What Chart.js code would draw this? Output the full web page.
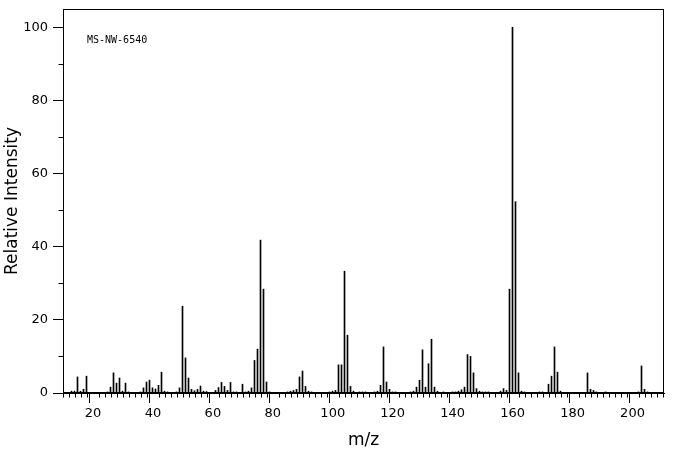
<!DOCTYPE html>
<html>
<head>
<meta charset="utf-8">
<style>
  html, body { margin: 0; padding: 0; background: #fff; }
  #wrap { width: 676px; height: 455px; position: relative; }
</style>
<script src="https://cdn.jsdelivr.net/npm/chart.js@4/dist/chart.umd.min.js"></script>
</head>
<body>
<div id="wrap"><canvas id="chart"></canvas></div>
<script>
// peak positions (m/z) and relative intensities
const mz = [
  13, 14, 15, 16, 17, 18, 25, 26, 27, 28, 29, 30, 31, 32, 36, 37, 38, 39, 40, 41,
  42, 43, 44, 45, 48, 49, 50, 51, 52, 53, 54, 55, 56, 57, 58, 61, 62, 63, 64, 65,
  66, 67, 68, 70, 71, 72, 73, 74, 75, 76, 77, 78, 79, 85, 86, 87, 88, 89, 90, 91,
  92, 93, 99, 100, 101, 102, 103, 104, 105, 106, 107, 109, 110, 111, 114, 115, 116, 117, 118, 119,
  120, 121, 126, 127, 128, 129, 130, 131, 132, 133, 134, 135, 137, 140, 141, 142, 143, 144, 145, 146,
  147, 148, 149, 150, 151, 152, 156, 157, 158, 159, 160, 161, 162, 163, 164, 169, 170, 172, 173, 174,
  175, 176, 185, 186, 187, 188, 191, 202, 203, 204, 205
];
const intensity = [
  0.5, 0.5, 4.4, 0.5, 1.0, 4.6, 0.3, 1.6, 5.5, 2.7, 4.1, 0.5, 2.7, 0.3, 0.3, 1.4, 3.0, 3.5, 1.4, 1.1,
  2.1, 5.7, 0.5, 0.3, 0.3, 1.4, 23.7, 9.6, 4.1, 1.0, 0.6, 1.0, 1.9, 0.5, 0.4, 0.7, 1.5, 2.9, 1.8, 0.7,
  2.9, 0.3, 0.3, 2.4, 0.3, 0.5, 1.4, 8.9, 12.0, 41.8, 28.4, 3.0, 0.3, 0.3, 0.5, 0.7, 1.0, 4.4, 6.0, 1.8,
  0.5, 0.3, 0.3, 0.5, 0.7, 7.7, 7.7, 33.3, 15.8, 1.8, 0.5, 0.3, 0.3, 0.3, 0.3, 0.5, 2.1, 12.6, 3.0, 1.0,
  0.3, 0.3, 0.3, 0.5, 1.6, 3.5, 11.8, 1.6, 8.0, 14.7, 1.6, 0.5, 0.3, 0.3, 0.3, 0.5, 0.9, 1.6, 10.5, 10.0,
  5.5, 1.2, 0.5, 0.3, 0.3, 0.3, 0.5, 1.2, 0.7, 28.4, 100, 52.3, 5.5, 0.5, 0.3, 0.3, 0.3, 2.4, 4.6, 12.6,
  5.7, 0.5, 5.5, 1.0, 0.7, 0.3, 0.3, 0.3, 7.4, 1.0, 0.3
];
const X_MIN = 10, X_MAX = 210.5, Y_MIN = 0, Y_MAX = 105;
const X_MAJOR = 20, X_MINOR = 2, Y_MAJOR = 20, Y_MINOR = 10;
const SAMPLE_ID = "MS-NW-6540";

Chart.defaults.font.family = '"DejaVu Sans", sans-serif';
Chart.defaults.color = "#000";

/* snap the 1px sticks onto pixel centres so they stay crisp */
const crisp = {
  id: "crisp",
  beforeDatasetsDraw(chart) {
    chart.getDatasetMeta(0).data.forEach(bar => {
      bar.x = Math.floor(bar.x) + 0.5;
    });
  }
};

/* frame around the plot, short minor ticks and the sample id */
const decor = {
  id: "decor",
  afterDraw(chart) {
    const { ctx, chartArea: a, scales: { x, y } } = chart;
    ctx.save();
    ctx.strokeStyle = "#000";
    ctx.lineWidth = 1;
    const l = Math.round(a.left) + 0.5, r = Math.round(a.right) - 0.5;
    const t = Math.round(a.top) + 0.5, b = Math.round(a.bottom) - 0.5;
    ctx.strokeRect(l, t, r - l, b - t);
    ctx.beginPath();
    x.ticks.forEach(tk => {
      if (tk.value % X_MAJOR === 0) return;
      const px = Math.round(x.getPixelForValue(tk.value)) + 0.5;
      ctx.moveTo(px, b); ctx.lineTo(px, b + 5);
    });
    y.ticks.forEach(tk => {
      if (tk.value % Y_MAJOR === 0) return;
      const py = Math.round(y.getPixelForValue(tk.value)) + 0.5;
      ctx.moveTo(l, py); ctx.lineTo(l - 5, py);
    });
    ctx.stroke();
    ctx.fillStyle = "#000";
    ctx.font = '10px "DejaVu Sans Mono", monospace';
    ctx.textBaseline = "middle";
    ctx.fillText(SAMPLE_ID, a.left + 24, a.top + 31);
    ctx.restore();
  }
};

const majorOnly = step => c => (c.tick && c.tick.value % step === 0) ? "#000" : "rgba(0,0,0,0)";

new Chart(document.getElementById("chart"), {
  type: "bar",
  data: {
    datasets: [{
      data: mz.map((m, i) => ({ x: m, y: intensity[i] })),
      backgroundColor: "#000",
      borderWidth: 0,
      barThickness: 1,
    }]
  },
  options: {
    responsive: true,
    maintainAspectRatio: false,
    animation: false,
    layout: { padding: { left: 0, top: 9, right: 12, bottom: 0 } },
    plugins: { legend: { display: false }, tooltip: { enabled: false } },
    scales: {
      x: {
        type: "linear",
        min: X_MIN, max: X_MAX,
        offset: false,
        afterFit: s => { s.height = 62; s.paddingLeft = 0; s.paddingRight = 0; },
        grid: { drawOnChartArea: false, tickLength: 10, tickColor: majorOnly(X_MAJOR) },
        border: { color: "#000" },
        ticks: {
          stepSize: X_MINOR, includeBounds: false, autoSkip: false,
          maxRotation: 0, padding: 3, font: { size: 13 },
          callback: v => (v % X_MAJOR === 0 ? v : "")
        },
        title: { display: true, text: "m/z", font: { size: 17 }, padding: { top: 0, bottom: 4 } }
      },
      y: {
        min: Y_MIN, max: Y_MAX,
        afterFit: s => { s.width = 63; s.paddingTop = 0; s.paddingBottom = 0; },
        grid: { drawOnChartArea: false, tickLength: 10, tickColor: majorOnly(Y_MAJOR) },
        border: { color: "#000" },
        ticks: {
          stepSize: Y_MINOR, includeBounds: false, autoSkip: false,
          padding: 5, font: { size: 13 },
          callback: v => (v % Y_MAJOR === 0 ? v : "")
        },
        title: { display: true, text: "Relative Intensity", font: { size: 17 }, padding: { top: 2, bottom: 0 } }
      }
    }
  },
  plugins: [crisp, decor]
});
</script>
</body>
</html>
